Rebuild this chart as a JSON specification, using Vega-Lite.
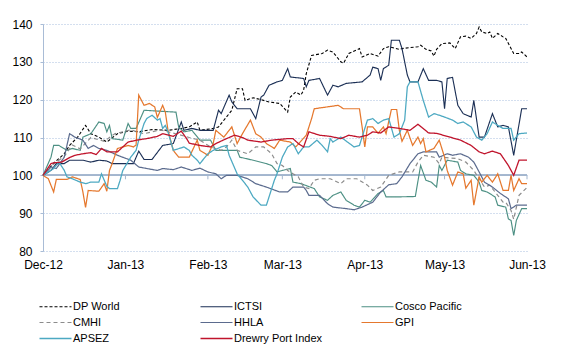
{
"$schema":"https://vega.github.io/schema/vega-lite/v6.json",
"width":484,"height":227,
"autosize":{"type":"none"},
"padding":{"left":43,"top":24,"right":35,"bottom":103},
"background":"white",
"config":{"view":{"stroke":null},"font":"Liberation Sans"},
"resolve":{"axis":{"x":"independent","y":"independent"}},
"data":{"values":[
{"date":"2012-12-01","series":"DP World","value":100},{"date":"2012-12-05","series":"DP World","value":103.2},{"date":"2012-12-09","series":"DP World","value":105.7},{"date":"2012-12-11","series":"DP World","value":107.9},{"date":"2012-12-14","series":"DP World","value":110.1},{"date":"2012-12-17","series":"DP World","value":113.2},{"date":"2012-12-19","series":"DP World","value":111},{"date":"2012-12-22","series":"DP World","value":110.1},{"date":"2012-12-25","series":"DP World","value":108.8},{"date":"2012-12-29","series":"DP World","value":111},{"date":"2013-01-02","series":"DP World","value":111.7},{"date":"2013-01-06","series":"DP World","value":111.5},{"date":"2013-01-11","series":"DP World","value":112.1},{"date":"2013-01-17","series":"DP World","value":111.9},{"date":"2013-01-22","series":"DP World","value":112.4},{"date":"2013-01-25","series":"DP World","value":112.8},{"date":"2013-01-28","series":"DP World","value":114.1},{"date":"2013-01-29","series":"DP World","value":111.9},{"date":"2013-02-03","series":"DP World","value":112.4},{"date":"2013-02-05","series":"DP World","value":112.8},{"date":"2013-02-10","series":"DP World","value":117.2},{"date":"2013-02-12","series":"DP World","value":122.9},{"date":"2013-02-14","series":"DP World","value":122.9},{"date":"2013-02-15","series":"DP World","value":119.8},{"date":"2013-02-18","series":"DP World","value":120.5},{"date":"2013-02-21","series":"DP World","value":120},{"date":"2013-02-24","series":"DP World","value":119.4},{"date":"2013-02-28","series":"DP World","value":119},{"date":"2013-03-03","series":"DP World","value":116.7},{"date":"2013-03-04","series":"DP World","value":120.7},{"date":"2013-03-06","series":"DP World","value":122},{"date":"2013-03-08","series":"DP World","value":121.2},{"date":"2013-03-09","series":"DP World","value":122.5},{"date":"2013-03-10","series":"DP World","value":126.9},{"date":"2013-03-12","series":"DP World","value":131.7},{"date":"2013-03-16","series":"DP World","value":132.2},{"date":"2013-03-18","series":"DP World","value":133.1},{"date":"2013-03-20","series":"DP World","value":132.6},{"date":"2013-03-23","series":"DP World","value":130},{"date":"2013-03-24","series":"DP World","value":129.6},{"date":"2013-03-26","series":"DP World","value":132.2},{"date":"2013-03-30","series":"DP World","value":133.5},{"date":"2013-03-31","series":"DP World","value":131.3},{"date":"2013-04-03","series":"DP World","value":132.2},{"date":"2013-04-06","series":"DP World","value":131.5},{"date":"2013-04-08","series":"DP World","value":133.5},{"date":"2013-04-10","series":"DP World","value":134},{"date":"2013-04-14","series":"DP World","value":133.3},{"date":"2013-04-15","series":"DP World","value":133.5},{"date":"2013-04-21","series":"DP World","value":134},{"date":"2013-04-22","series":"DP World","value":134.4},{"date":"2013-04-24","series":"DP World","value":133.3},{"date":"2013-04-26","series":"DP World","value":132.9},{"date":"2013-04-27","series":"DP World","value":131.5},{"date":"2013-04-28","series":"DP World","value":133.3},{"date":"2013-04-30","series":"DP World","value":134.8},{"date":"2013-05-03","series":"DP World","value":135},{"date":"2013-05-05","series":"DP World","value":133.5},{"date":"2013-05-07","series":"DP World","value":136.6},{"date":"2013-05-09","series":"DP World","value":136.8},{"date":"2013-05-11","series":"DP World","value":136.2},{"date":"2013-05-13","series":"DP World","value":137.5},{"date":"2013-05-14","series":"DP World","value":139.2},{"date":"2013-05-15","series":"DP World","value":137.9},{"date":"2013-05-17","series":"DP World","value":137.5},{"date":"2013-05-18","series":"DP World","value":137.9},{"date":"2013-05-19","series":"DP World","value":136.2},{"date":"2013-05-21","series":"DP World","value":137.5},{"date":"2013-05-23","series":"DP World","value":136.6},{"date":"2013-05-24","series":"DP World","value":136.2},{"date":"2013-05-27","series":"DP World","value":132.2},{"date":"2013-05-29","series":"DP World","value":132.2},{"date":"2013-05-30","series":"DP World","value":132.6},{"date":"2013-06-01","series":"DP World","value":131.3},
{"date":"2012-12-01","series":"ICTSI","value":100},{"date":"2012-12-04","series":"ICTSI","value":101.3},{"date":"2012-12-06","series":"ICTSI","value":103.1},{"date":"2012-12-09","series":"ICTSI","value":103.1},{"date":"2012-12-11","series":"ICTSI","value":104},{"date":"2012-12-16","series":"ICTSI","value":104},{"date":"2012-12-19","series":"ICTSI","value":103.5},{"date":"2012-12-22","series":"ICTSI","value":104},{"date":"2012-12-25","series":"ICTSI","value":103.8},{"date":"2012-12-27","series":"ICTSI","value":103.1},{"date":"2013-01-04","series":"ICTSI","value":103.1},{"date":"2013-01-06","series":"ICTSI","value":106.4},{"date":"2013-01-08","series":"ICTSI","value":104.2},{"date":"2013-01-11","series":"ICTSI","value":104.2},{"date":"2013-01-15","series":"ICTSI","value":107.9},{"date":"2013-01-19","series":"ICTSI","value":108.4},{"date":"2013-01-22","series":"ICTSI","value":114.1},{"date":"2013-01-23","series":"ICTSI","value":111.9},{"date":"2013-01-26","series":"ICTSI","value":112.4},{"date":"2013-01-29","series":"ICTSI","value":111.9},{"date":"2013-02-03","series":"ICTSI","value":111.9},{"date":"2013-02-05","series":"ICTSI","value":117.2},{"date":"2013-02-06","series":"ICTSI","value":116.3},{"date":"2013-02-09","series":"ICTSI","value":121.2},{"date":"2013-02-10","series":"ICTSI","value":119.4},{"date":"2013-02-12","series":"ICTSI","value":117.6},{"date":"2013-02-17","series":"ICTSI","value":117.6},{"date":"2013-02-19","series":"ICTSI","value":115},{"date":"2013-02-21","series":"ICTSI","value":120.7},{"date":"2013-02-22","series":"ICTSI","value":121.2},{"date":"2013-02-24","series":"ICTSI","value":123.8},{"date":"2013-02-27","series":"ICTSI","value":124.7},{"date":"2013-03-01","series":"ICTSI","value":125.1},{"date":"2013-03-03","series":"ICTSI","value":128.2},{"date":"2013-03-04","series":"ICTSI","value":126},{"date":"2013-03-09","series":"ICTSI","value":125.6},{"date":"2013-03-10","series":"ICTSI","value":123.4},{"date":"2013-03-11","series":"ICTSI","value":125.1},{"date":"2013-03-15","series":"ICTSI","value":125.6},{"date":"2013-03-18","series":"ICTSI","value":121.2},{"date":"2013-03-20","series":"ICTSI","value":123.8},{"date":"2013-03-22","series":"ICTSI","value":123.4},{"date":"2013-03-25","series":"ICTSI","value":124.3},{"date":"2013-03-31","series":"ICTSI","value":124.7},{"date":"2013-04-03","series":"ICTSI","value":126.5},{"date":"2013-04-04","series":"ICTSI","value":128.6},{"date":"2013-04-06","series":"ICTSI","value":128.2},{"date":"2013-04-07","series":"ICTSI","value":125.1},{"date":"2013-04-08","series":"ICTSI","value":128.2},{"date":"2013-04-10","series":"ICTSI","value":129.1},{"date":"2013-04-11","series":"ICTSI","value":135.7},{"date":"2013-04-14","series":"ICTSI","value":135.7},{"date":"2013-04-15","series":"ICTSI","value":133.5},{"date":"2013-04-17","series":"ICTSI","value":126.5},{"date":"2013-04-18","series":"ICTSI","value":124.7},{"date":"2013-04-21","series":"ICTSI","value":124.7},{"date":"2013-04-23","series":"ICTSI","value":128.2},{"date":"2013-04-25","series":"ICTSI","value":125.1},{"date":"2013-04-28","series":"ICTSI","value":125.1},{"date":"2013-04-30","series":"ICTSI","value":124.7},{"date":"2013-05-01","series":"ICTSI","value":117.6},{"date":"2013-05-02","series":"ICTSI","value":125.6},{"date":"2013-05-04","series":"ICTSI","value":125.9},{"date":"2013-05-06","series":"ICTSI","value":118.5},{"date":"2013-05-08","series":"ICTSI","value":116.3},{"date":"2013-05-11","series":"ICTSI","value":115.4},{"date":"2013-05-12","series":"ICTSI","value":119.8},{"date":"2013-05-14","series":"ICTSI","value":110.1},{"date":"2013-05-16","series":"ICTSI","value":110.1},{"date":"2013-05-19","series":"ICTSI","value":116.3},{"date":"2013-05-21","series":"ICTSI","value":112.8},{"date":"2013-05-23","series":"ICTSI","value":113.2},{"date":"2013-05-25","series":"ICTSI","value":112.8},{"date":"2013-05-27","series":"ICTSI","value":105.3},{"date":"2013-05-30","series":"ICTSI","value":117.6},{"date":"2013-06-01","series":"ICTSI","value":117.6},
{"date":"2012-12-01","series":"Cosco Pacific","value":100},{"date":"2012-12-04","series":"Cosco Pacific","value":104.8},{"date":"2012-12-05","series":"Cosco Pacific","value":107.9},{"date":"2012-12-07","series":"Cosco Pacific","value":107.9},{"date":"2012-12-10","series":"Cosco Pacific","value":106.6},{"date":"2012-12-12","series":"Cosco Pacific","value":107.1},{"date":"2012-12-15","series":"Cosco Pacific","value":106.6},{"date":"2012-12-16","series":"Cosco Pacific","value":110.1},{"date":"2012-12-19","series":"Cosco Pacific","value":111},{"date":"2012-12-22","series":"Cosco Pacific","value":114.1},{"date":"2012-12-24","series":"Cosco Pacific","value":113.7},{"date":"2012-12-25","series":"Cosco Pacific","value":111.5},{"date":"2012-12-26","series":"Cosco Pacific","value":113.2},{"date":"2012-12-27","series":"Cosco Pacific","value":109.7},{"date":"2012-12-31","series":"Cosco Pacific","value":109.3},{"date":"2013-01-02","series":"Cosco Pacific","value":113.7},{"date":"2013-01-03","series":"Cosco Pacific","value":112.4},{"date":"2013-01-05","series":"Cosco Pacific","value":112.4},{"date":"2013-01-08","series":"Cosco Pacific","value":117.2},{"date":"2013-01-20","series":"Cosco Pacific","value":116.7},{"date":"2013-01-21","series":"Cosco Pacific","value":112.8},{"date":"2013-01-23","series":"Cosco Pacific","value":111.5},{"date":"2013-01-26","series":"Cosco Pacific","value":111.9},{"date":"2013-01-29","series":"Cosco Pacific","value":109.3},{"date":"2013-02-02","series":"Cosco Pacific","value":109.3},{"date":"2013-02-04","series":"Cosco Pacific","value":106.6},{"date":"2013-02-12","series":"Cosco Pacific","value":106.6},{"date":"2013-02-13","series":"Cosco Pacific","value":104.8},{"date":"2013-02-18","series":"Cosco Pacific","value":104},{"date":"2013-02-23","series":"Cosco Pacific","value":103.1},{"date":"2013-02-25","series":"Cosco Pacific","value":102.6},{"date":"2013-02-27","series":"Cosco Pacific","value":100.9},{"date":"2013-03-01","series":"Cosco Pacific","value":101.3},{"date":"2013-03-04","series":"Cosco Pacific","value":101.8},{"date":"2013-03-05","series":"Cosco Pacific","value":98.2},{"date":"2013-03-08","series":"Cosco Pacific","value":97.8},{"date":"2013-03-13","series":"Cosco Pacific","value":96.5},{"date":"2013-03-15","series":"Cosco Pacific","value":94.3},{"date":"2013-03-18","series":"Cosco Pacific","value":93.4},{"date":"2013-03-20","series":"Cosco Pacific","value":94.7},{"date":"2013-03-23","series":"Cosco Pacific","value":95.6},{"date":"2013-03-25","series":"Cosco Pacific","value":93.4},{"date":"2013-03-28","series":"Cosco Pacific","value":92.1},{"date":"2013-03-30","series":"Cosco Pacific","value":91.6},{"date":"2013-04-01","series":"Cosco Pacific","value":93.4},{"date":"2013-04-03","series":"Cosco Pacific","value":92.9},{"date":"2013-04-06","series":"Cosco Pacific","value":95.2},{"date":"2013-04-08","series":"Cosco Pacific","value":96},{"date":"2013-04-09","series":"Cosco Pacific","value":94.3},{"date":"2013-04-13","series":"Cosco Pacific","value":94.3},{"date":"2013-04-20","series":"Cosco Pacific","value":94.4},{"date":"2013-04-22","series":"Cosco Pacific","value":102.6},{"date":"2013-04-24","series":"Cosco Pacific","value":98.7},{"date":"2013-04-26","series":"Cosco Pacific","value":98.2},{"date":"2013-04-28","series":"Cosco Pacific","value":96.9},{"date":"2013-04-29","series":"Cosco Pacific","value":102.6},{"date":"2013-04-30","series":"Cosco Pacific","value":101.3},{"date":"2013-05-02","series":"Cosco Pacific","value":104},{"date":"2013-05-06","series":"Cosco Pacific","value":103.5},{"date":"2013-05-07","series":"Cosco Pacific","value":101.3},{"date":"2013-05-09","series":"Cosco Pacific","value":100.4},{"date":"2013-05-12","series":"Cosco Pacific","value":100},{"date":"2013-05-14","series":"Cosco Pacific","value":98.2},{"date":"2013-05-15","series":"Cosco Pacific","value":96},{"date":"2013-05-17","series":"Cosco Pacific","value":95.6},{"date":"2013-05-20","series":"Cosco Pacific","value":94.3},{"date":"2013-05-21","series":"Cosco Pacific","value":92.1},{"date":"2013-05-24","series":"Cosco Pacific","value":91.6},{"date":"2013-05-25","series":"Cosco Pacific","value":88.5},{"date":"2013-05-26","series":"Cosco Pacific","value":88.1},{"date":"2013-05-27","series":"Cosco Pacific","value":84.1},{"date":"2013-05-28","series":"Cosco Pacific","value":88.1},{"date":"2013-05-30","series":"Cosco Pacific","value":91.2},{"date":"2013-06-01","series":"Cosco Pacific","value":91.2},
{"date":"2012-12-01","series":"CMHI","value":100},{"date":"2012-12-05","series":"CMHI","value":103},{"date":"2012-12-09","series":"CMHI","value":105},{"date":"2012-12-12","series":"CMHI","value":108},{"date":"2012-12-15","series":"CMHI","value":107},{"date":"2012-12-19","series":"CMHI","value":110},{"date":"2012-12-24","series":"CMHI","value":109},{"date":"2012-12-28","series":"CMHI","value":111},{"date":"2013-01-03","series":"CMHI","value":112},{"date":"2013-01-08","series":"CMHI","value":111},{"date":"2013-01-14","series":"CMHI","value":112},{"date":"2013-01-20","series":"CMHI","value":111},{"date":"2013-01-25","series":"CMHI","value":110},{"date":"2013-01-29","series":"CMHI","value":109.3},{"date":"2013-02-02","series":"CMHI","value":107.5},{"date":"2013-02-06","series":"CMHI","value":106.6},{"date":"2013-02-08","series":"CMHI","value":107.5},{"date":"2013-02-10","series":"CMHI","value":109.3},{"date":"2013-02-12","series":"CMHI","value":106.6},{"date":"2013-02-16","series":"CMHI","value":105.7},{"date":"2013-02-19","series":"CMHI","value":107.5},{"date":"2013-02-22","series":"CMHI","value":107.5},{"date":"2013-02-25","series":"CMHI","value":105.7},{"date":"2013-02-27","series":"CMHI","value":103.1},{"date":"2013-03-01","series":"CMHI","value":102.6},{"date":"2013-03-03","series":"CMHI","value":101.3},{"date":"2013-03-05","series":"CMHI","value":100.4},{"date":"2013-03-07","series":"CMHI","value":99.6},{"date":"2013-03-09","series":"CMHI","value":96.9},{"date":"2013-03-11","series":"CMHI","value":96.5},{"date":"2013-03-13","series":"CMHI","value":98.7},{"date":"2013-03-15","series":"CMHI","value":99.1},{"date":"2013-03-19","series":"CMHI","value":99.1},{"date":"2013-03-23","series":"CMHI","value":97.8},{"date":"2013-03-25","series":"CMHI","value":99.1},{"date":"2013-03-29","series":"CMHI","value":99.1},{"date":"2013-04-02","series":"CMHI","value":97.4},{"date":"2013-04-04","series":"CMHI","value":96},{"date":"2013-04-07","series":"CMHI","value":96.9},{"date":"2013-04-10","series":"CMHI","value":100},{"date":"2013-04-14","series":"CMHI","value":100.9},{"date":"2013-04-19","series":"CMHI","value":100.9},{"date":"2013-04-21","series":"CMHI","value":103.5},{"date":"2013-04-23","series":"CMHI","value":105.3},{"date":"2013-04-27","series":"CMHI","value":104.8},{"date":"2013-04-29","series":"CMHI","value":103.1},{"date":"2013-04-30","series":"CMHI","value":104.8},{"date":"2013-05-06","series":"CMHI","value":104.4},{"date":"2013-05-09","series":"CMHI","value":103.5},{"date":"2013-05-12","series":"CMHI","value":101.3},{"date":"2013-05-14","series":"CMHI","value":99.1},{"date":"2013-05-16","series":"CMHI","value":96.9},{"date":"2013-05-18","series":"CMHI","value":97.4},{"date":"2013-05-21","series":"CMHI","value":94.7},{"date":"2013-05-23","series":"CMHI","value":92.9},{"date":"2013-05-24","series":"CMHI","value":92.9},{"date":"2013-05-26","series":"CMHI","value":90.7},{"date":"2013-05-27","series":"CMHI","value":88.4},{"date":"2013-05-29","series":"CMHI","value":94.7},{"date":"2013-06-01","series":"CMHI","value":96.8},
{"date":"2012-12-01","series":"HHLA","value":100},{"date":"2012-12-04","series":"HHLA","value":102.2},{"date":"2012-12-06","series":"HHLA","value":101.8},{"date":"2012-12-09","series":"HHLA","value":104.8},{"date":"2012-12-11","series":"HHLA","value":111},{"date":"2012-12-13","series":"HHLA","value":110.1},{"date":"2012-12-16","series":"HHLA","value":109.3},{"date":"2012-12-18","series":"HHLA","value":107.1},{"date":"2012-12-20","series":"HHLA","value":107.9},{"date":"2012-12-22","series":"HHLA","value":107.1},{"date":"2012-12-25","series":"HHLA","value":106.6},{"date":"2012-12-29","series":"HHLA","value":105.3},{"date":"2013-01-03","series":"HHLA","value":104},{"date":"2013-01-06","series":"HHLA","value":102.2},{"date":"2013-01-09","series":"HHLA","value":101.8},{"date":"2013-01-13","series":"HHLA","value":101.3},{"date":"2013-01-15","series":"HHLA","value":101.8},{"date":"2013-01-19","series":"HHLA","value":101.5},{"date":"2013-01-22","series":"HHLA","value":102.2},{"date":"2013-01-26","series":"HHLA","value":101.3},{"date":"2013-01-29","series":"HHLA","value":101.9},{"date":"2013-02-01","series":"HHLA","value":100.9},{"date":"2013-02-04","series":"HHLA","value":100.4},{"date":"2013-02-06","series":"HHLA","value":99.1},{"date":"2013-02-08","series":"HHLA","value":100},{"date":"2013-02-12","series":"HHLA","value":100},{"date":"2013-02-16","series":"HHLA","value":99.1},{"date":"2013-02-19","series":"HHLA","value":97.8},{"date":"2013-02-23","series":"HHLA","value":96.9},{"date":"2013-02-28","series":"HHLA","value":95.6},{"date":"2013-03-03","series":"HHLA","value":95.6},{"date":"2013-03-05","series":"HHLA","value":96.9},{"date":"2013-03-09","series":"HHLA","value":96.9},{"date":"2013-03-10","series":"HHLA","value":96},{"date":"2013-03-11","series":"HHLA","value":94.7},{"date":"2013-03-15","series":"HHLA","value":94.7},{"date":"2013-03-18","series":"HHLA","value":92.5},{"date":"2013-03-20","series":"HHLA","value":91.6},{"date":"2013-03-25","series":"HHLA","value":91.2},{"date":"2013-03-28","series":"HHLA","value":90.9},{"date":"2013-03-31","series":"HHLA","value":91.6},{"date":"2013-04-04","series":"HHLA","value":92.9},{"date":"2013-04-07","series":"HHLA","value":95.6},{"date":"2013-04-10","series":"HHLA","value":97.5},{"date":"2013-04-13","series":"HHLA","value":97.8},{"date":"2013-04-15","series":"HHLA","value":99.6},{"date":"2013-04-18","series":"HHLA","value":103.1},{"date":"2013-04-21","series":"HHLA","value":105.7},{"date":"2013-04-23","series":"HHLA","value":106.2},{"date":"2013-04-28","series":"HHLA","value":106.2},{"date":"2013-04-29","series":"HHLA","value":104.8},{"date":"2013-05-02","series":"HHLA","value":105.7},{"date":"2013-05-04","series":"HHLA","value":105.3},{"date":"2013-05-07","series":"HHLA","value":105.7},{"date":"2013-05-10","series":"HHLA","value":104.8},{"date":"2013-05-12","series":"HHLA","value":103.5},{"date":"2013-05-14","series":"HHLA","value":100.9},{"date":"2013-05-16","series":"HHLA","value":98.2},{"date":"2013-05-19","series":"HHLA","value":96.9},{"date":"2013-05-22","series":"HHLA","value":95.2},{"date":"2013-05-25","series":"HHLA","value":93.8},{"date":"2013-05-26","series":"HHLA","value":91.2},{"date":"2013-05-28","series":"HHLA","value":92.1},{"date":"2013-06-01","series":"HHLA","value":92.1},
{"date":"2012-12-01","series":"GPI","value":100},{"date":"2012-12-03","series":"GPI","value":99.1},{"date":"2012-12-05","series":"GPI","value":95.6},{"date":"2012-12-06","series":"GPI","value":98.9},{"date":"2012-12-10","series":"GPI","value":98.9},{"date":"2012-12-12","series":"GPI","value":99.6},{"date":"2012-12-15","series":"GPI","value":98.9},{"date":"2012-12-16","series":"GPI","value":95.6},{"date":"2012-12-17","series":"GPI","value":91.5},{"date":"2012-12-18","series":"GPI","value":96},{"date":"2012-12-22","series":"GPI","value":95.8},{"date":"2012-12-24","series":"GPI","value":97.8},{"date":"2012-12-25","series":"GPI","value":95.8},{"date":"2012-12-26","series":"GPI","value":101.3},{"date":"2012-12-27","series":"GPI","value":103.1},{"date":"2012-12-29","series":"GPI","value":107.1},{"date":"2013-01-02","series":"GPI","value":107.9},{"date":"2013-01-04","series":"GPI","value":107.5},{"date":"2013-01-05","series":"GPI","value":108},{"date":"2013-01-06","series":"GPI","value":121.2},{"date":"2013-01-08","series":"GPI","value":118.5},{"date":"2013-01-10","series":"GPI","value":119},{"date":"2013-01-12","series":"GPI","value":118.1},{"date":"2013-01-13","series":"GPI","value":115.3},{"date":"2013-01-15","series":"GPI","value":118.5},{"date":"2013-01-16","series":"GPI","value":116.7},{"date":"2013-01-17","series":"GPI","value":111.9},{"date":"2013-01-19","series":"GPI","value":106.6},{"date":"2013-01-21","series":"GPI","value":104.8},{"date":"2013-01-25","series":"GPI","value":104.8},{"date":"2013-01-28","series":"GPI","value":109.3},{"date":"2013-01-29","series":"GPI","value":106.6},{"date":"2013-02-01","series":"GPI","value":105.3},{"date":"2013-02-03","series":"GPI","value":108.4},{"date":"2013-02-04","series":"GPI","value":111.9},{"date":"2013-02-07","series":"GPI","value":110.1},{"date":"2013-02-10","series":"GPI","value":112.8},{"date":"2013-02-12","series":"GPI","value":108.4},{"date":"2013-02-14","series":"GPI","value":111},{"date":"2013-02-17","series":"GPI","value":114.6},{"date":"2013-02-19","series":"GPI","value":111},{"date":"2013-02-21","series":"GPI","value":110.1},{"date":"2013-02-23","series":"GPI","value":108.4},{"date":"2013-02-26","series":"GPI","value":107.1},{"date":"2013-02-28","series":"GPI","value":109.3},{"date":"2013-03-04","series":"GPI","value":108.8},{"date":"2013-03-06","series":"GPI","value":107.5},{"date":"2013-03-10","series":"GPI","value":110.6},{"date":"2013-03-12","series":"GPI","value":115},{"date":"2013-03-13","series":"GPI","value":117.6},{"date":"2013-03-16","series":"GPI","value":117.9},{"date":"2013-03-22","series":"GPI","value":118.5},{"date":"2013-03-24","series":"GPI","value":117.6},{"date":"2013-03-30","series":"GPI","value":117.6},{"date":"2013-03-31","series":"GPI","value":112.8},{"date":"2013-04-01","series":"GPI","value":107.5},{"date":"2013-04-02","series":"GPI","value":112.8},{"date":"2013-04-04","series":"GPI","value":112.8},{"date":"2013-04-06","series":"GPI","value":111.1},{"date":"2013-04-08","series":"GPI","value":112.8},{"date":"2013-04-09","series":"GPI","value":111},{"date":"2013-04-11","series":"GPI","value":117.4},{"date":"2013-04-13","series":"GPI","value":117.4},{"date":"2013-04-14","series":"GPI","value":111.9},{"date":"2013-04-15","series":"GPI","value":109},{"date":"2013-04-17","series":"GPI","value":111.9},{"date":"2013-04-19","series":"GPI","value":107.9},{"date":"2013-04-21","series":"GPI","value":110.1},{"date":"2013-04-22","series":"GPI","value":108.4},{"date":"2013-04-23","series":"GPI","value":109.7},{"date":"2013-04-24","series":"GPI","value":106.2},{"date":"2013-04-27","series":"GPI","value":107.1},{"date":"2013-04-29","series":"GPI","value":109.3},{"date":"2013-05-01","series":"GPI","value":104.8},{"date":"2013-05-02","series":"GPI","value":101.3},{"date":"2013-05-04","series":"GPI","value":97.4},{"date":"2013-05-06","series":"GPI","value":100.9},{"date":"2013-05-08","series":"GPI","value":100.4},{"date":"2013-05-09","series":"GPI","value":96.6},{"date":"2013-05-11","series":"GPI","value":98.7},{"date":"2013-05-12","series":"GPI","value":92.1},{"date":"2013-05-14","series":"GPI","value":99.6},{"date":"2013-05-15","series":"GPI","value":98.2},{"date":"2013-05-17","series":"GPI","value":100},{"date":"2013-05-19","series":"GPI","value":98.2},{"date":"2013-05-21","series":"GPI","value":100.4},{"date":"2013-05-23","series":"GPI","value":96},{"date":"2013-05-25","series":"GPI","value":96},{"date":"2013-05-26","series":"GPI","value":100},{"date":"2013-05-27","series":"GPI","value":96},{"date":"2013-05-29","series":"GPI","value":99.1},{"date":"2013-05-30","series":"GPI","value":97.8},{"date":"2013-06-01","series":"GPI","value":97.8},
{"date":"2012-12-01","series":"APSEZ","value":100},{"date":"2012-12-05","series":"APSEZ","value":101.8},{"date":"2012-12-07","series":"APSEZ","value":103.5},{"date":"2012-12-09","series":"APSEZ","value":101.3},{"date":"2012-12-10","series":"APSEZ","value":99.6},{"date":"2012-12-12","series":"APSEZ","value":99.1},{"date":"2012-12-15","series":"APSEZ","value":98.2},{"date":"2012-12-17","series":"APSEZ","value":97.8},{"date":"2012-12-19","series":"APSEZ","value":98.2},{"date":"2012-12-22","series":"APSEZ","value":98.2},{"date":"2012-12-23","series":"APSEZ","value":100.4},{"date":"2012-12-25","series":"APSEZ","value":97.1},{"date":"2012-12-26","series":"APSEZ","value":96.5},{"date":"2012-12-29","series":"APSEZ","value":96.5},{"date":"2012-12-30","series":"APSEZ","value":98.7},{"date":"2012-12-31","series":"APSEZ","value":101.3},{"date":"2013-01-03","series":"APSEZ","value":104.8},{"date":"2013-01-05","series":"APSEZ","value":106.6},{"date":"2013-01-06","series":"APSEZ","value":109.3},{"date":"2013-01-08","series":"APSEZ","value":113.7},{"date":"2013-01-09","series":"APSEZ","value":115},{"date":"2013-01-11","series":"APSEZ","value":115.9},{"date":"2013-01-13","series":"APSEZ","value":114.6},{"date":"2013-01-14","series":"APSEZ","value":115},{"date":"2013-01-15","series":"APSEZ","value":112.4},{"date":"2013-01-16","series":"APSEZ","value":113.2},{"date":"2013-01-17","series":"APSEZ","value":111.5},{"date":"2013-01-19","series":"APSEZ","value":106.6},{"date":"2013-01-23","series":"APSEZ","value":107.5},{"date":"2013-01-25","series":"APSEZ","value":106.6},{"date":"2013-01-26","series":"APSEZ","value":105.3},{"date":"2013-01-28","series":"APSEZ","value":104},{"date":"2013-01-29","series":"APSEZ","value":103.1},{"date":"2013-02-01","series":"APSEZ","value":105.7},{"date":"2013-02-03","series":"APSEZ","value":106.6},{"date":"2013-02-06","series":"APSEZ","value":107.5},{"date":"2013-02-08","series":"APSEZ","value":107.9},{"date":"2013-02-09","series":"APSEZ","value":105.3},{"date":"2013-02-12","series":"APSEZ","value":100.4},{"date":"2013-02-14","series":"APSEZ","value":98.7},{"date":"2013-02-16","series":"APSEZ","value":96.9},{"date":"2013-02-18","series":"APSEZ","value":94.3},{"date":"2013-02-21","series":"APSEZ","value":92.1},{"date":"2013-02-23","series":"APSEZ","value":92.1},{"date":"2013-02-24","series":"APSEZ","value":94.3},{"date":"2013-02-26","series":"APSEZ","value":98.7},{"date":"2013-02-27","series":"APSEZ","value":100.4},{"date":"2013-03-01","series":"APSEZ","value":104.8},{"date":"2013-03-03","series":"APSEZ","value":107.5},{"date":"2013-03-05","series":"APSEZ","value":108.4},{"date":"2013-03-07","series":"APSEZ","value":105.7},{"date":"2013-03-09","series":"APSEZ","value":107.5},{"date":"2013-03-11","series":"APSEZ","value":107.5},{"date":"2013-03-14","series":"APSEZ","value":109.3},{"date":"2013-03-16","series":"APSEZ","value":107.9},{"date":"2013-03-18","series":"APSEZ","value":106.2},{"date":"2013-03-19","series":"APSEZ","value":109.7},{"date":"2013-03-20","series":"APSEZ","value":108.8},{"date":"2013-03-23","series":"APSEZ","value":110.1},{"date":"2013-03-28","series":"APSEZ","value":107.5},{"date":"2013-03-30","series":"APSEZ","value":107.9},{"date":"2013-04-02","series":"APSEZ","value":114.6},{"date":"2013-04-04","series":"APSEZ","value":115},{"date":"2013-04-06","series":"APSEZ","value":113.7},{"date":"2013-04-08","series":"APSEZ","value":114.6},{"date":"2013-04-10","series":"APSEZ","value":115},{"date":"2013-04-12","series":"APSEZ","value":110.1},{"date":"2013-04-14","series":"APSEZ","value":111},{"date":"2013-04-16","series":"APSEZ","value":114.6},{"date":"2013-04-17","series":"APSEZ","value":123.4},{"date":"2013-04-18","series":"APSEZ","value":124.7},{"date":"2013-04-21","series":"APSEZ","value":124.7},{"date":"2013-04-23","series":"APSEZ","value":119.8},{"date":"2013-04-25","series":"APSEZ","value":115.4},{"date":"2013-04-27","series":"APSEZ","value":116.3},{"date":"2013-04-29","series":"APSEZ","value":115.9},{"date":"2013-05-01","series":"APSEZ","value":115.4},{"date":"2013-05-04","series":"APSEZ","value":114.6},{"date":"2013-05-06","series":"APSEZ","value":113.7},{"date":"2013-05-08","series":"APSEZ","value":114.1},{"date":"2013-05-11","series":"APSEZ","value":112.8},{"date":"2013-05-13","series":"APSEZ","value":110.1},{"date":"2013-05-15","series":"APSEZ","value":109.3},{"date":"2013-05-17","series":"APSEZ","value":111},{"date":"2013-05-19","series":"APSEZ","value":114.1},{"date":"2013-05-21","series":"APSEZ","value":113.2},{"date":"2013-05-23","series":"APSEZ","value":112.4},{"date":"2013-05-26","series":"APSEZ","value":112.4},{"date":"2013-05-27","series":"APSEZ","value":109.3},{"date":"2013-05-29","series":"APSEZ","value":111},{"date":"2013-06-01","series":"APSEZ","value":111.2},
{"date":"2012-12-01","series":"Drewry Port Index","value":100},{"date":"2012-12-04","series":"Drewry Port Index","value":103.1},{"date":"2012-12-05","series":"Drewry Port Index","value":103.3},{"date":"2012-12-08","series":"Drewry Port Index","value":103.5},{"date":"2012-12-11","series":"Drewry Port Index","value":104.7},{"date":"2012-12-13","series":"Drewry Port Index","value":105.3},{"date":"2012-12-16","series":"Drewry Port Index","value":105.7},{"date":"2012-12-19","series":"Drewry Port Index","value":106},{"date":"2012-12-21","series":"Drewry Port Index","value":105.5},{"date":"2012-12-23","series":"Drewry Port Index","value":107.1},{"date":"2012-12-25","series":"Drewry Port Index","value":106.2},{"date":"2012-12-29","series":"Drewry Port Index","value":106.2},{"date":"2012-12-31","series":"Drewry Port Index","value":107.5},{"date":"2013-01-02","series":"Drewry Port Index","value":108.8},{"date":"2013-01-06","series":"Drewry Port Index","value":109.4},{"date":"2013-01-09","series":"Drewry Port Index","value":109.7},{"date":"2013-01-13","series":"Drewry Port Index","value":110.3},{"date":"2013-01-15","series":"Drewry Port Index","value":111},{"date":"2013-01-19","series":"Drewry Port Index","value":110.3},{"date":"2013-01-22","series":"Drewry Port Index","value":111.7},{"date":"2013-01-24","series":"Drewry Port Index","value":109.7},{"date":"2013-01-25","series":"Drewry Port Index","value":108.5},{"date":"2013-01-29","series":"Drewry Port Index","value":107.9},{"date":"2013-02-02","series":"Drewry Port Index","value":107.5},{"date":"2013-02-04","series":"Drewry Port Index","value":108.4},{"date":"2013-02-08","series":"Drewry Port Index","value":109.7},{"date":"2013-02-11","series":"Drewry Port Index","value":110.6},{"date":"2013-02-14","series":"Drewry Port Index","value":110},{"date":"2013-02-16","series":"Drewry Port Index","value":109.3},{"date":"2013-02-21","series":"Drewry Port Index","value":108.8},{"date":"2013-02-25","series":"Drewry Port Index","value":109.3},{"date":"2013-03-03","series":"Drewry Port Index","value":109.7},{"date":"2013-03-05","series":"Drewry Port Index","value":109.7},{"date":"2013-03-07","series":"Drewry Port Index","value":108.4},{"date":"2013-03-09","series":"Drewry Port Index","value":107.5},{"date":"2013-03-11","series":"Drewry Port Index","value":111.5},{"date":"2013-03-15","series":"Drewry Port Index","value":110.6},{"date":"2013-03-19","series":"Drewry Port Index","value":110.3},{"date":"2013-03-23","series":"Drewry Port Index","value":109.7},{"date":"2013-03-26","series":"Drewry Port Index","value":110.6},{"date":"2013-03-30","series":"Drewry Port Index","value":110.1},{"date":"2013-04-02","series":"Drewry Port Index","value":110.6},{"date":"2013-04-04","series":"Drewry Port Index","value":111.5},{"date":"2013-04-07","series":"Drewry Port Index","value":111.2},{"date":"2013-04-10","series":"Drewry Port Index","value":112.8},{"date":"2013-04-14","series":"Drewry Port Index","value":112.4},{"date":"2013-04-18","series":"Drewry Port Index","value":111.9},{"date":"2013-04-21","series":"Drewry Port Index","value":113.5},{"date":"2013-04-25","series":"Drewry Port Index","value":111.2},{"date":"2013-04-28","series":"Drewry Port Index","value":111.1},{"date":"2013-05-03","series":"Drewry Port Index","value":110.1},{"date":"2013-05-07","series":"Drewry Port Index","value":109.3},{"date":"2013-05-11","series":"Drewry Port Index","value":107.9},{"date":"2013-05-14","series":"Drewry Port Index","value":106.2},{"date":"2013-05-16","series":"Drewry Port Index","value":105.7},{"date":"2013-05-19","series":"Drewry Port Index","value":106.4},{"date":"2013-05-22","series":"Drewry Port Index","value":105.7},{"date":"2013-05-25","series":"Drewry Port Index","value":102.6},{"date":"2013-05-27","series":"Drewry Port Index","value":100},{"date":"2013-05-29","series":"Drewry Port Index","value":104},{"date":"2013-06-01","series":"Drewry Port Index","value":104}
]},
"layer":[
{"mark":{"type":"rule","color":"#A3B6CE","strokeWidth":1},
 "encoding":{"y":{"datum":100,"type":"quantitative","axis":null}}},
{"data":{"values":[{"date":"2013-01-01"},{"date":"2013-02-01"},{"date":"2013-03-01"},{"date":"2013-04-01"},{"date":"2013-05-01"},{"date":"2013-06-01"}]},
 "mark":{"type":"rule","color":"#A3B6CE","strokeWidth":1},
 "encoding":{"x":{"field":"date","type":"temporal","axis":null},"y":{"datum":100,"type":"quantitative","axis":null},"y2":{"datum":98.95}}},
{"mark":{"type":"line","interpolate":"linear"},
 "encoding":{
  "x":{"field":"date","type":"temporal",
   "scale":{"type":"utc","domain":[{"year":2012,"month":12,"date":1,"utc":true},{"year":2013,"month":6,"date":1,"utc":true}]},
   "axis":{"title":null,"format":"%b-%y","values":[{"year":2012,"month":12,"date":1,"utc":true},{"year":2013,"month":1,"date":1,"utc":true},{"year":2013,"month":2,"date":1,"utc":true},{"year":2013,"month":3,"date":1,"utc":true},{"year":2013,"month":4,"date":1,"utc":true},{"year":2013,"month":5,"date":1,"utc":true},{"year":2013,"month":6,"date":1,"utc":true}],
    "domain":false,"ticks":false,"grid":false,"labelFontSize":12,"labelFont":"Liberation Sans","labelColor":"#000000","labelPadding":8,"labelFlush":false,"labelOverlap":false}},
  "y":{"field":"value","type":"quantitative",
   "scale":{"domain":[80,140],"nice":false,"zero":false},
   "axis":{"title":null,"values":[80,90,100,110,120,130,140],"labelOverlap":false,"grid":true,"gridColor":"#A9BEDF","gridDash":[1,2],"gridWidth":1,"domainColor":"#A9BCD6","tickColor":"#A9BCD6","tickSize":3,"labelPadding":8,"labelFontSize":12,"labelFont":"Liberation Sans","labelColor":"#000000"}},
  "color":{"field":"series","type":"nominal",
   "scale":{"domain":["DP World","ICTSI","Cosco Pacific","CMHI","HHLA","GPI","APSEZ","Drewry Port Index"],
    "range":["#000000","#1B2F55","#4D9084","#8C8C8C","#5B6B8E","#E5782E","#4DA9C2","#C0142C"]},
   "legend":{"orient":"none","direction":"horizontal","legendX":-3,"legendY":277,"columns":3,"title":null,"gridAlign":"all","columnPadding":35,"rowPadding":4,
    "symbolType":"M-4,0H4","symbolSize":64,"symbolOffset":10,"labelOffset":12,"labelFontSize":11,"labelFont":"Liberation Sans","labelColor":"#000000","padding":0}},
  "strokeDash":{"field":"series","type":"nominal",
   "scale":{"domain":["DP World","ICTSI","Cosco Pacific","CMHI","HHLA","GPI","APSEZ","Drewry Port Index"],
    "range":[[3,2],[1,0],[1,0],[4,3],[1,0],[1,0],[1,0],[1,0]]}},
  "strokeWidth":{"field":"series","type":"nominal",
   "scale":{"domain":["DP World","ICTSI","Cosco Pacific","CMHI","HHLA","GPI","APSEZ","Drewry Port Index"],
    "range":[1.1,1.3,1.1,1.1,1.1,1.1,1.1,3]}}
 }}
]
}
